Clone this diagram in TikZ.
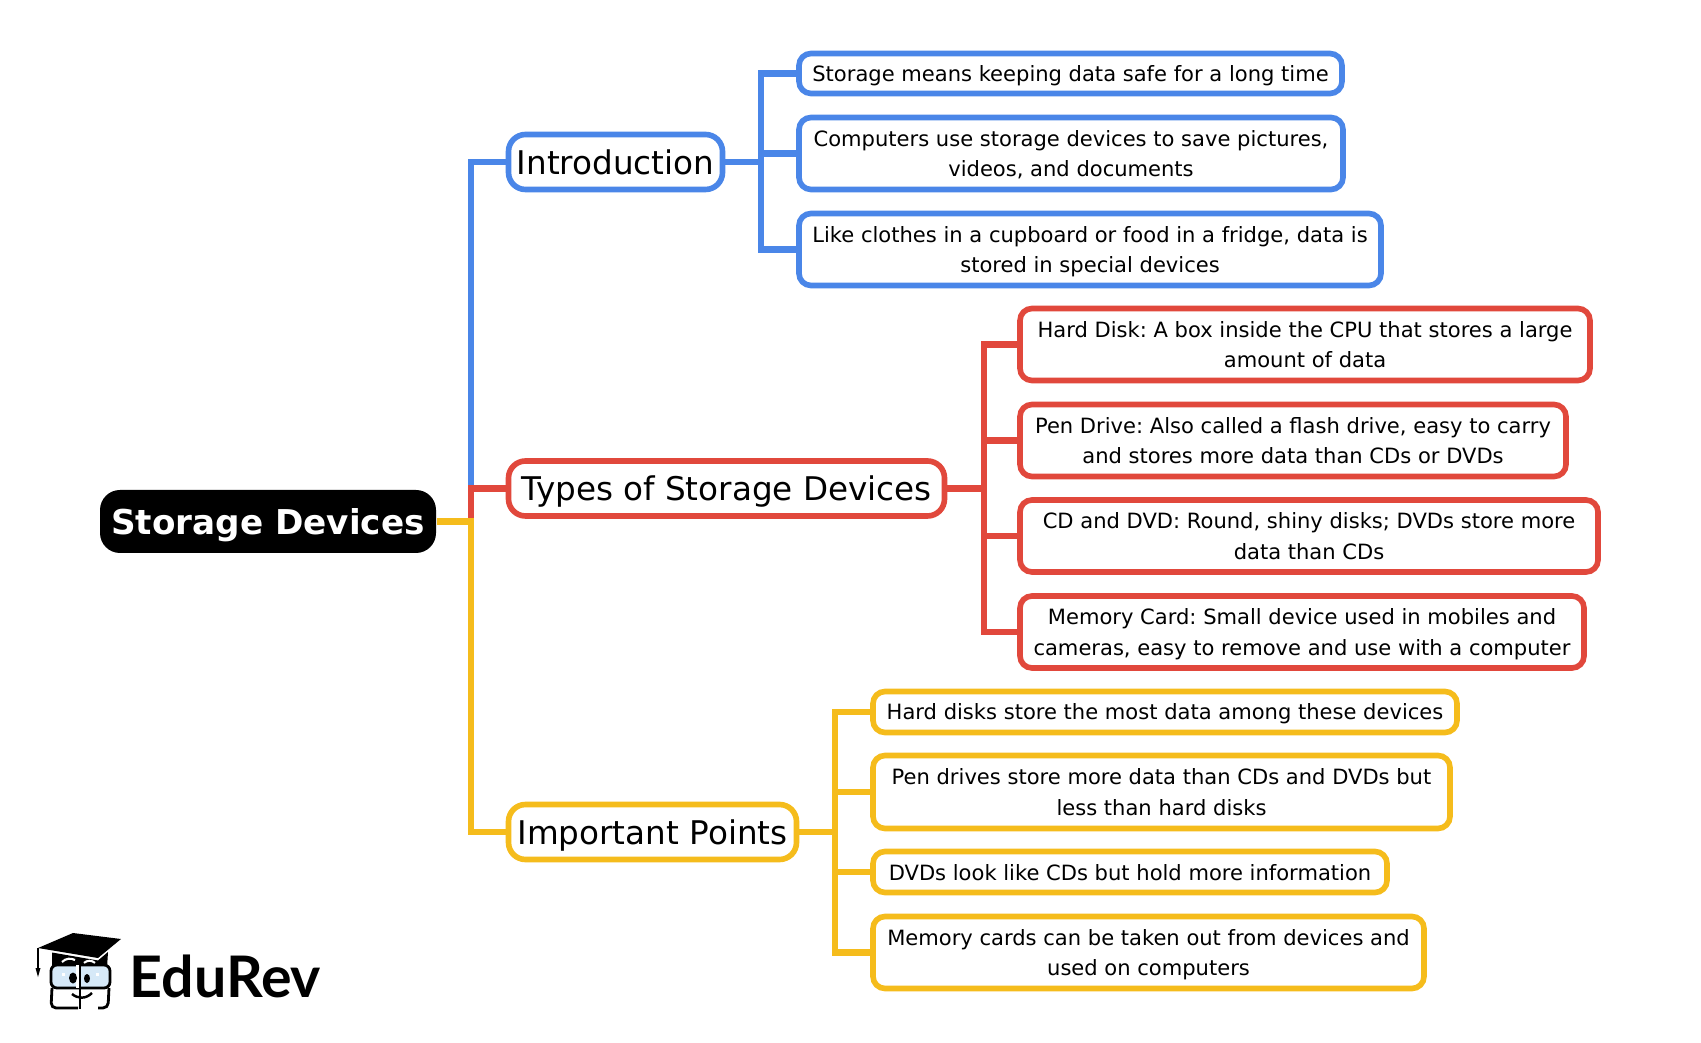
\documentclass[tikz,border=0pt]{standalone}
\usepackage{fontspec}
\setmainfont{DejaVu Sans}
\newfontfamily\logofont{Lato}
\usepackage{xcolor}
\definecolor{xblue}{HTML}{4A86E8}
\definecolor{xred}{HTML}{E1483C}
\definecolor{xyellow}{HTML}{F5BC1C}
\definecolor{xlens}{HTML}{D6E9F8}
\tikzset{
	rootnode/.style={fill=black, text=white, rounded corners=0.2cm, inner sep=0pt, text depth=0pt, minimum width=3.36cm, minimum height=0.63cm, font=\fontsize{9.73}{12}\selectfont\bfseries},
	topic/.style={draw=#1, fill=white, line width=1.6pt, rounded corners=0.17cm, inner sep=0pt, text depth=0pt, minimum height=0.55cm, font=\fontsize{9.28}{12}\selectfont},
	leaf/.style={draw=#1, fill=white, line width=1.6pt, rounded corners=0.12cm, inner sep=0pt, text depth=0pt, align=center, font=\frenchspacing\fontsize{5.99}{8.8}\selectfont},
	branch/.style={line width=1.9pt, draw=#1},
}

\begin{document}
\begin{tikzpicture}
	\useasboundingbox (0,0) rectangle (17.01,10.42);

	\node[rootnode] (root) at (2.68,5.205) {Storage Devices};
	\coordinate (root_j) at (4.71,5.205);

	% introduction
	\node[topic=xblue, minimum width=2.14cm] (intro) at (6.155,8.80) {Introduction};
	\coordinate (intro_j) at (7.61,8.80);
	\node[leaf=xblue, minimum width=5.43cm, minimum height=0.40cm] (intro1) at (10.705,9.685) {Storage means keeping data safe for a long time};
	\node[leaf=xblue, minimum width=5.44cm, minimum height=0.72cm] (intro2) at (10.71,8.885) {Computers use storage devices to save pictures,\\videos, and documents};
	\node[leaf=xblue, minimum width=5.82cm, minimum height=0.72cm] (intro3) at (10.90,7.925) {Like clothes in a cupboard or food in a fridge, data is\\stored in special devices};

	\draw[branch=xblue] (root_j) |- (intro.west);
	\draw[branch=xblue] (intro.east) -- (intro_j);
	\draw[branch=xblue] (intro_j) |- (intro1.west);
	\draw[branch=xblue] (intro_j) |- (intro2.west);
	\draw[branch=xblue] (intro_j) |- (intro3.west);

	% types
	\node[topic=xred, minimum width=4.36cm] (types) at (7.265,5.535) {Types of Storage Devices};
	\coordinate (types_j) at (9.84,5.535);
	\node[leaf=xred, minimum width=5.70cm, minimum height=0.72cm] (types1) at (13.05,6.975) {Hard Disk: A box inside the CPU that stores a large\\amount of data};
	\node[leaf=xred, minimum width=5.46cm, minimum height=0.72cm] (types2) at (12.93,6.015) {Pen Drive: Also called a flash drive, easy to carry\\and stores more data than CDs or DVDs};
	\node[leaf=xred, minimum width=5.78cm, minimum height=0.72cm] (types3) at (13.09,5.06) {CD and DVD: Round, shiny disks; DVDs store more\\data than CDs};
	\node[leaf=xred, minimum width=5.64cm, minimum height=0.72cm] (types4) at (13.02,4.10) {Memory Card: Small device used in mobiles and\\cameras, easy to remove and use with a computer};

	\draw[branch=xred] (root_j) |- (types.west);
	\draw[branch=xred] (types.east) -- (types_j);
	\draw[branch=xred] (types_j) |- (types1.west);
	\draw[branch=xred] (types_j) |- (types2.west);
	\draw[branch=xred] (types_j) |- (types3.west);
	\draw[branch=xred] (types_j) |- (types4.west);

	% points
	\node[topic=xyellow, minimum width=2.88cm] (points) at (6.525,2.10) {Important Points};
	\coordinate (points_j) at (8.35,2.10);
	\node[leaf=xyellow, minimum width=5.84cm, minimum height=0.41cm] (points1) at (11.65,3.30) {Hard disks store the most data among these devices};
	\node[leaf=xyellow, minimum width=5.77cm, minimum height=0.73cm] (points2) at (11.615,2.50) {Pen drives store more data than CDs and DVDs but\\less than hard disks};
	\node[leaf=xyellow, minimum width=5.14cm, minimum height=0.41cm] (points3) at (11.30,1.70) {DVDs look like CDs but hold more information};
	\node[leaf=xyellow, minimum width=5.51cm, minimum height=0.72cm] (points4) at (11.485,0.895) {Memory cards can be taken out from devices and\\used on computers};

	\draw[branch=xyellow] (root.east) -- (root_j) |- (points.west);
	\draw[branch=xyellow] (points.east) -- (points_j);
	\draw[branch=xyellow] (points_j) |- (points1.west);
	\draw[branch=xyellow] (points_j) |- (points2.west);
	\draw[branch=xyellow] (points_j) |- (points3.west);
	\draw[branch=xyellow] (points_j) |- (points4.west);

	% logo
	\node[anchor=base west, inner sep=0pt, font=\logofont\fontsize{16.3}{18}\selectfont\bfseries] (logotext) at (1.29,0.45) {EduRev};
	\fill (0.38,0.94) -- (0.73,1.09) -- (1.21,1.03) -- (0.98,0.84) -- cycle;
	\fill (0.52,0.895) -- (0.98,0.815) -- (1.08,0.90) -- (1.07,0.74) -- (0.52,0.74) -- cycle;
	\draw[line width=0.6pt] (0.38,0.94) -- (0.38,0.72);
	\fill (0.355,0.74) -- (0.405,0.74) -- (0.38,0.65) -- cycle;
	\draw[white, line width=0.6pt] (0.62,0.80) .. controls (0.66,0.84) and (0.71,0.84) .. (0.75,0.82);
	\draw[white, line width=0.6pt] (0.84,0.79) .. controls (0.87,0.82) and (0.92,0.82) .. (0.95,0.79);
	\draw[fill=xlens, line width=0.8pt, rounded corners=0.06cm] (0.51,0.77) rectangle (1.10,0.54);
	\draw[line width=0.8pt, rounded corners=0.05cm] (0.52,0.54) -- (0.51,0.34) -- (0.78,0.34);
	\draw[line width=0.8pt, rounded corners=0.05cm] (1.09,0.54) -- (1.08,0.34) -- (0.98,0.34);
	\draw[white, line width=0.7pt] (0.775,0.77) -- (0.775,0.54);
	\draw[line width=0.8pt] (0.80,0.79) -- (0.80,0.33);
	\fill (0.73,0.64) ellipse (0.04 and 0.055);
	\fill (0.87,0.635) ellipse (0.03 and 0.045);
	\fill[white] (0.62,0.66) rectangle (0.65,0.69);
	\fill[white] (0.96,0.66) rectangle (0.99,0.69);
	\draw[line width=0.7pt] (0.72,0.48) .. controls (0.78,0.43) and (0.86,0.43) .. (0.92,0.49);
\end{tikzpicture}
\end{document}
